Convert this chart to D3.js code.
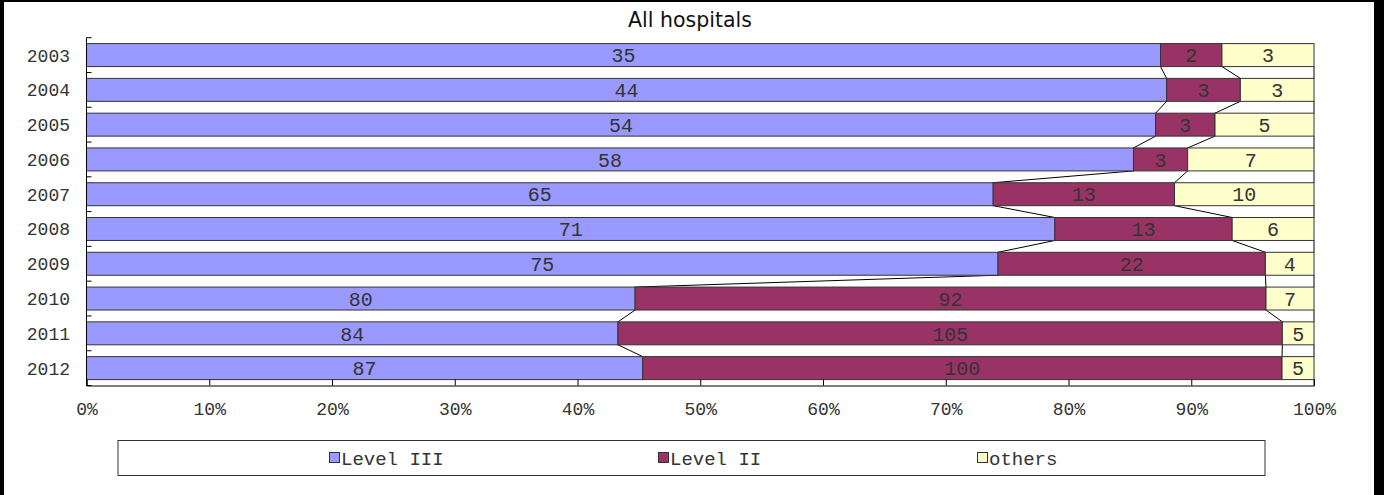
<!DOCTYPE html>
<html>
<head>
<meta charset="utf-8">
<script src="https://cdn.jsdelivr.net/npm/d3@7"></script>
<style>
  body { margin: 0; background: #fff; }
  svg { display: block; }
  .mono { font-family: "Liberation Mono", "Courier New", monospace; fill: #333; }
</style>
</head>
<body>
<div id="chart"></div>
<script>
// chart data
var years = ["2003", "2004", "2005", "2006", "2007", "2008", "2009", "2010", "2011", "2012"];
var series_names = ["Level III", "Level II", "others"];
var level3 = [35, 44, 54, 58, 65, 71, 75, 80, 84, 87];
var level2 = [2, 3, 3, 3, 13, 13, 22, 92, 105, 100];
var others = [3, 3, 5, 7, 10, 6, 4, 7, 5, 5];
var colors = ["#9999ff", "#993366", "#ffffcc"];
var x_ticks = [0, 0.1, 0.2, 0.3, 0.4, 0.5, 0.6, 0.7, 0.8, 0.9, 1];

var W = 1384, H = 495;
// note: "top" is taken by window.top, so plot_* names
var plot_left = 86.5, plot_right = 1314, plot_top = 37.7, plot_bottom = 385.5;

var svg = d3.select("#chart").append("svg")
    .attr("width", W)
    .attr("height", H);

// frame bits (black edges of the original screenshot)
svg.append("rect").attr("x", 0).attr("y", 0).attr("width", 4).attr("height", H).attr("fill", "#000");
svg.append("rect").attr("x", 0).attr("y", 0).attr("width", W).attr("height", 2).attr("fill", "#000");
svg.append("rect").attr("x", 1374).attr("y", 0).attr("width", 10).attr("height", H).attr("fill", "#000");

// build rows: value, cumulative start/end as share of the total
var rows = years.map(function(yr, i) {
    var vals = [level3[i], level2[i], others[i]];
    var total = d3.sum(vals);
    var acc = 0;
    var segs = vals.map(function(v, k) {
        var s = { year: yr, k: k, value: v, x0: acc / total };
        acc += v;
        s.x1 = acc / total;
        return s;
    });
    return { year: yr, segs: segs };
});

var x = d3.scaleLinear().domain([0, 1]).range([plot_left, plot_right]);
var y = d3.scaleBand().domain(years).range([plot_top, plot_bottom])
    .paddingInner(0.34).paddingOuter(0.17);

// title
svg.append("text")
    .attr("x", 690)
    .attr("y", 27)
    .attr("text-anchor", "middle")
    .style("font-family", "'DejaVu Sans', Tahoma, sans-serif")
    .style("font-size", "20.5px")
    .attr("fill", "#111")
    .text("All hospitals");

// series lines between bars
var lines = svg.append("g");
for (var i = 0; i < rows.length - 1; i++) {
    [0, 1, 2].forEach(function(k) {
        lines.append("line")
            .attr("x1", x(rows[i].segs[k].x1))
            .attr("y1", y(rows[i].year) + y.bandwidth())
            .attr("x2", x(rows[i + 1].segs[k].x1))
            .attr("y2", y(rows[i + 1].year))
            .attr("stroke", "#000")
            .attr("stroke-width", 1);
    });
}
// 100% line down to the axis under last bar
lines.append("line")
    .attr("x1", x(1)).attr("x2", x(1))
    .attr("y1", y(years[years.length - 1]) + y.bandwidth())
    .attr("y2", plot_bottom)
    .attr("stroke", "#000");

// bars
var bars = svg.append("g");
rows.forEach(function(r) {
    bars.selectAll(null)
        .data(r.segs)
        .enter().append("rect")
        .attr("x", function(d) { return x(d.x0); })
        .attr("y", y(r.year))
        .attr("width", function(d) { return x(d.x1) - x(d.x0); })
        .attr("height", y.bandwidth())
        .attr("fill", function(d) { return colors[d.k]; })
        .attr("stroke", "#333")
        .attr("stroke-width", 1);

    bars.selectAll(null)
        .data(r.segs)
        .enter().append("text")
        .attr("class", "mono")
        .attr("x", function(d) { return (x(d.x0) + x(d.x1)) / 2; })
        .attr("y", y(r.year) + y.bandwidth() / 2)
        .attr("dy", "0.36em")
        .attr("text-anchor", "middle")
        .style("font-size", "20px")
        .text(function(d) { return d.value; });
});

// y axis: line, ticks at band edges, labels
var yax = svg.append("g");
yax.append("line")
    .attr("x1", plot_left).attr("x2", plot_left)
    .attr("y1", plot_top).attr("y2", plot_bottom)
    .attr("stroke", "#000");
var step = y.step();
d3.range(years.length + 1).forEach(function(i) {
    var ty = plot_top + i * step;
    yax.append("line")
        .attr("x1", plot_left).attr("x2", plot_left + 5)
        .attr("y1", ty).attr("y2", ty)
        .attr("stroke", "#000");
});
yax.selectAll("text.ylab")
    .data(years)
    .enter().append("text")
    .attr("class", "mono ylab")
    .attr("x", 70)
    .attr("y", function(d) { return y(d) + y.bandwidth() / 2; })
    .attr("dy", "0.36em")
    .attr("text-anchor", "end")
    .style("font-size", "18px")
    .text(function(d) { return d; });

// x axis
var xAxis = d3.axisBottom(x)
    .tickValues(x_ticks)
    .tickSize(-6)
    .tickPadding(17)
    .tickFormat(d3.format(".0%"));
var gx = svg.append("g")
    .attr("transform", "translate(0," + plot_bottom + ")")
    .call(xAxis);
gx.select(".domain").attr("stroke", "#000");
gx.selectAll(".tick line").attr("stroke", "#000");
gx.selectAll(".tick text")
    .attr("class", "mono")
    .style("font-size", "18px")
    .style("font-family", "'Liberation Mono', 'Courier New', monospace")
    .attr("fill", "#333");

// legend
var legend = svg.append("g");
legend.append("rect")
    .attr("x", 118).attr("y", 440.5)
    .attr("width", 1147).attr("height", 35)
    .attr("fill", "#fff")
    .attr("stroke", "#333");
var legend_x = [329, 658, 977];
series_names.forEach(function(name, k) {
    legend.append("rect")
        .attr("x", legend_x[k] + 0.5).attr("y", 452.5)
        .attr("width", 10).attr("height", 10)
        .attr("fill", colors[k])
        .attr("stroke", "#333");
    legend.append("text")
        .attr("class", "mono")
        .attr("x", legend_x[k] + 12)
        .attr("y", 458)
        .attr("dy", "0.36em")
        .style("font-size", "19px")
        .text(name);
});
</script>
</body>
</html>
